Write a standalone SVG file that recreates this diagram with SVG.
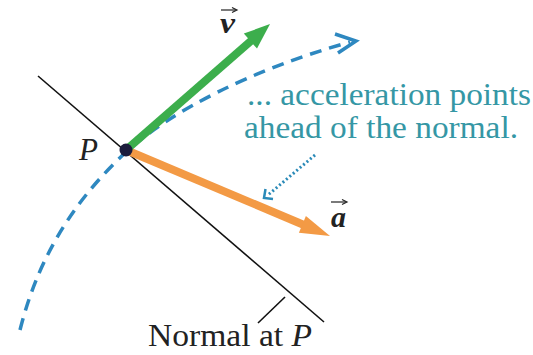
<svg xmlns="http://www.w3.org/2000/svg" width="533" height="355" viewBox="0 0 533 355">
<style>
.lbl{font-family:"Liberation Serif","Times New Roman",serif;font-size:31px;fill:#222}
.note{font-family:"Liberation Serif","Times New Roman",serif;font-size:31px;fill:#3597a5}
.vec{font-family:"Liberation Serif","Times New Roman",serif;font-size:30px;font-style:italic;font-weight:bold;fill:#222}
.thin{stroke:#111;stroke-width:1.6;fill:none}
</style>
<rect width="533" height="355" fill="#fff"/>
<g id="connectors">
  <line id="normal-line" class="thin" x1="38" y1="76" x2="324" y2="322"/>
  <line id="normal-tick" class="thin" x1="285" y1="297" x2="258" y2="323"/>
  <path id="path" d="M20,330 C40,250 80,195 126,152 C170,112 250,70 350,42" fill="none" stroke="#2e88c0" stroke-width="3.5" stroke-dasharray="12 8"/>
  <polyline points="335,34 356,41 338,53" fill="none" stroke="#2e88c0" stroke-width="3.5" stroke-linejoin="miter"/>
  <line id="note-pointer" x1="315" y1="155" x2="268" y2="195" stroke="#2a8ab8" stroke-width="3" stroke-dasharray="2 2.5"/>
  <polyline points="265.5,189 264,198 273,199" fill="none" stroke="#2a8ab8" stroke-width="2.5"/>
  <g id="accel">
    <line x1="126" y1="150" x2="304" y2="225" stroke="#f39a45" stroke-width="8"/>
    <polygon points="330,236 298.9,232.7 305.9,216.1" fill="#f39a45"/>
  </g>
  <g id="velocity">
    <line x1="126" y1="150" x2="252" y2="40" stroke="#3cae4c" stroke-width="8"/>
    <polygon points="270,24 257,48.6 243.8,33.6" fill="#3cae4c"/>
  </g>
</g>
<g id="point-P">
  <circle cx="126" cy="150" r="6.5" fill="#1c1c3c"/>
  <text class="lbl" x="79" y="160" font-style="italic" textLength="19" lengthAdjust="spacingAndGlyphs">P</text>
</g>
<g id="label-v">
  <text class="vec" x="220" y="33" textLength="15" lengthAdjust="spacingAndGlyphs">v</text>
  <line x1="221" y1="10" x2="236" y2="10" stroke="#222" stroke-width="1.2"/>
  <polyline points="232,7.5 237,10 232,12.5" fill="none" stroke="#222" stroke-width="1.2"/>
</g>
<g id="label-a">
  <text class="vec" x="331" y="227" textLength="15" lengthAdjust="spacingAndGlyphs">a</text>
  <line x1="331" y1="202" x2="346" y2="202" stroke="#222" stroke-width="1.2"/>
  <polyline points="342,199.5 347,202 342,204.5" fill="none" stroke="#222" stroke-width="1.2"/>
</g>
<g id="note">
  <text class="note" x="247" y="105" textLength="284" lengthAdjust="spacingAndGlyphs">... acceleration points</text>
  <text class="note" x="244" y="138" textLength="274" lengthAdjust="spacingAndGlyphs">ahead of the normal.</text>
</g>
<g id="normal-label">
  <text class="lbl" x="148" y="346" font-size="29" textLength="164" lengthAdjust="spacingAndGlyphs">Normal at <tspan font-style="italic">P</tspan></text>
</g>
</svg>
